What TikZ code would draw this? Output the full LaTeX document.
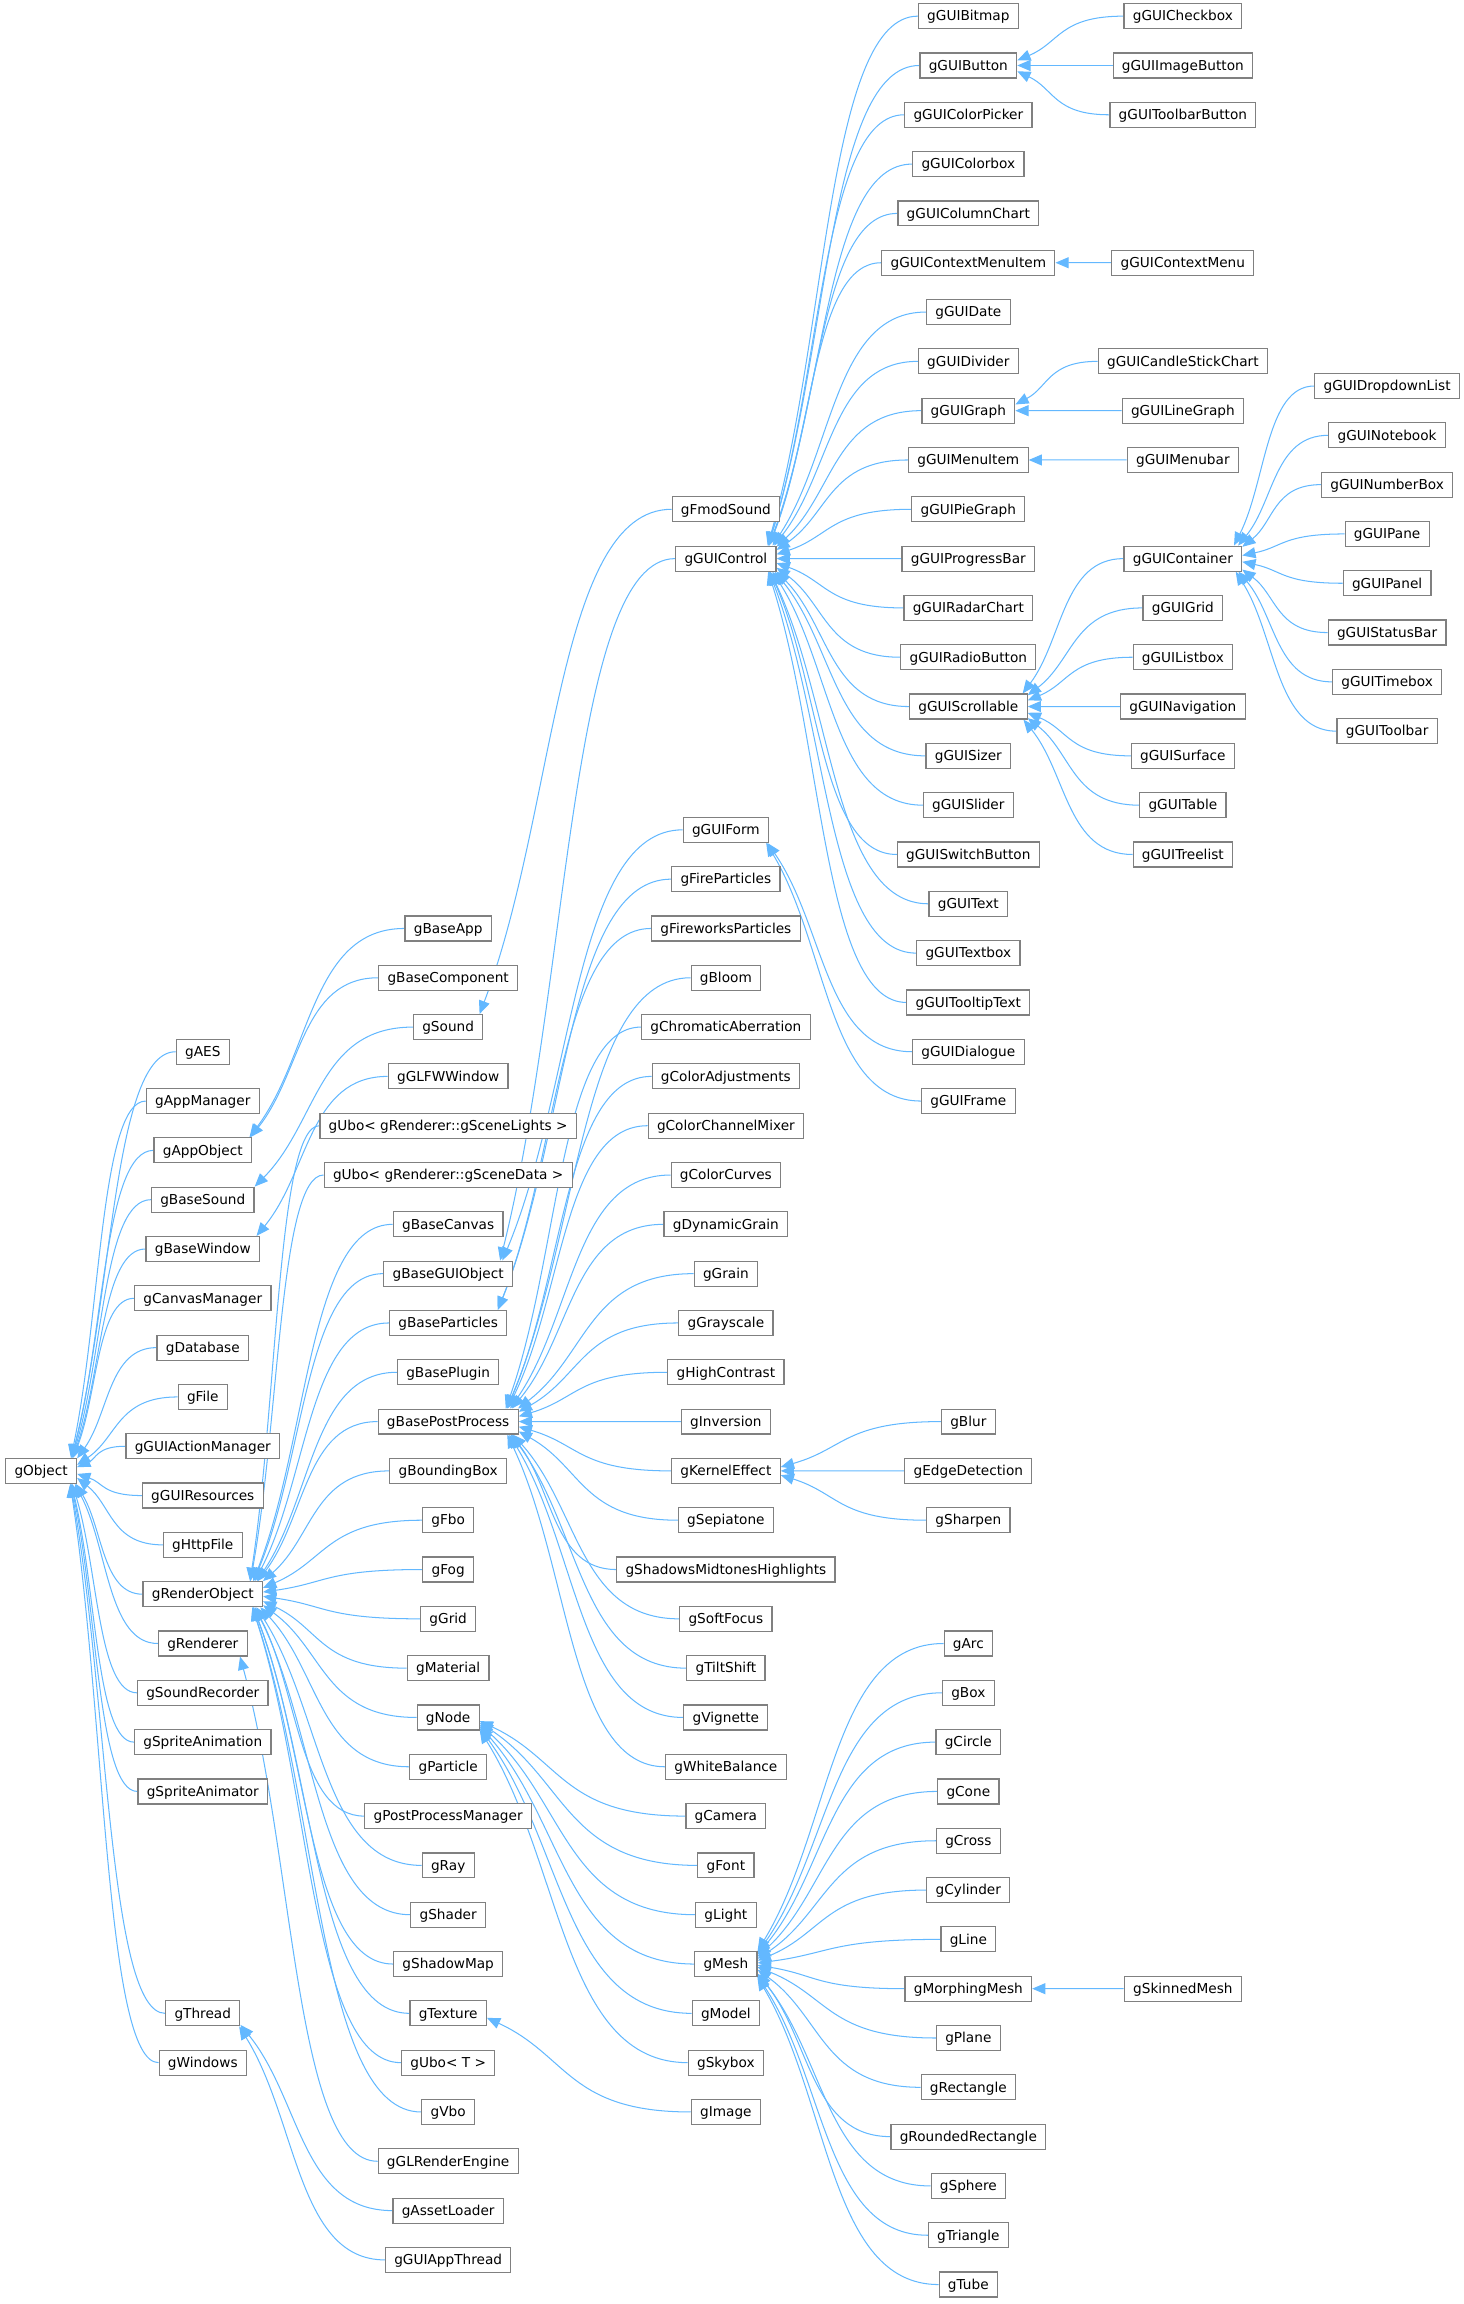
\documentclass[tikz,border=0pt]{standalone}
\usepackage{fontspec}
\setmainfont{DejaVu Sans}
\usetikzlibrary{arrows.meta, positioning, calc, backgrounds}
\definecolor{edgeblue}{RGB}{99,184,255}
\definecolor{boxgray}{RGB}{128,128,128}

\begin{document}
\begin{tikzpicture}[
        x=1pt, y=1pt,
        font=\fontsize{9.3}{11}\selectfont,
        cls/.style={draw=boxgray, line width=0.8pt, fill=white, minimum height=17pt, inner xsep=6pt, inner ysep=0pt, text height=6.8pt, text depth=0.3pt},
        inh/.style={draw=edgeblue, line width=0.7pt, -{Triangle[length=9pt,width=7.5pt]},
            to path={let \p1=(\tikztostart), \p2=(\tikztotarget.center), \p3=(\tikztotarget.north east),
                \n1={(\x2)+0.75*((\x3)-(\x2))},
                \n2={atan2((\y1)-(\y2),(\x1)-(\n1))},
                \n3={min(0.25*((\x3)-(\x2))/max(cos(\n2),0.01),((\y3)-(\y2))/max(abs(sin(\n2)),0.01))},
                \p4=({\n1+\n3*cos(\n2)},{(\y2)+\n3*sin(\n2)}),
                \n4={max(0.6*abs((\x1)-(\x4)),4)},
                \n5={0.4*veclen((\x1)-(\x4),(\y1)-(\y4))}
            in (\tikztostart) .. controls +(-\n4,0) and +(\n2:\n5) .. (\p4)}},
        node distance=15.76pt and 20pt,
    ]
        \useasboundingbox (0,0) rectangle (996,-1568);

        % --- root ---
        \node[cls] (Object) at (28,-1001.02) {gObject};

        % --- direct children of gObject ---
        \node[cls] (AES) at (138,-715.76) {gAES};
        \node[cls, below=of AES] (AppManager) {gAppManager};
        \node[cls, below=of AppManager] (AppObject) {gAppObject};
        \node[cls, below=of AppObject] (BaseSound) {gBaseSound};
        \node[cls, below=of BaseSound] (BaseWindow) {gBaseWindow};
        \node[cls, below=of BaseWindow] (CanvasManager) {gCanvasManager};
        \node[cls, below=of CanvasManager] (Database) {gDatabase};
        \node[cls, below=of Database] (File) {gFile};
        \node[cls, below=of File] (GUIActionManager) {gGUIActionManager};
        \node[cls, below=of GUIActionManager] (GUIResources) {gGUIResources};
        \node[cls, below=of GUIResources] (HttpFile) {gHttpFile};
        \node[cls, below=of HttpFile] (RenderObject) {gRenderObject};
        \node[cls, below=of RenderObject] (Renderer) {gRenderer};
        \node[cls, below=of Renderer] (SoundRecorder) {gSoundRecorder};
        \node[cls, below=of SoundRecorder] (SpriteAnimation) {gSpriteAnimation};
        \node[cls, below=of SpriteAnimation] (SpriteAnimator) {gSpriteAnimator};
        \node[cls] (Thread) at (138,-1370.18) {gThread};
        \node[cls, below=of Thread] (Windows) {gWindows};

        % --- second level ---
        \node[cls] (BaseApp) at (305,-631.86) {gBaseApp};
        \node[cls, below=of BaseApp] (BaseComponent) {gBaseComponent};
        \node[cls, below=of BaseComponent] (Sound) {gSound};
        \node[cls, below=of Sound] (GLFWWindow) {gGLFWWindow};
        \node[cls, below=of GLFWWindow] (UboLights) {gUbo< gRenderer::gSceneLights >};
        \node[cls, below=of UboLights] (UboData) {gUbo< gRenderer::gSceneData >};
        \node[cls, below=of UboData] (BaseCanvas) {gBaseCanvas};
        \node[cls, below=of BaseCanvas] (BaseGUIObject) {gBaseGUIObject};
        \node[cls, below=of BaseGUIObject] (BaseParticles) {gBaseParticles};
        \node[cls, below=of BaseParticles] (BasePlugin) {gBasePlugin};
        \node[cls, below=of BasePlugin] (BasePostProcess) {gBasePostProcess};
        \node[cls, below=of BasePostProcess] (BoundingBox) {gBoundingBox};
        \node[cls, below=of BoundingBox] (Fbo) {gFbo};
        \node[cls, below=of Fbo] (Fog) {gFog};
        \node[cls, below=of Fog] (Grid) {gGrid};
        \node[cls, below=of Grid] (Material) {gMaterial};
        \node[cls, below=of Material] (Node) {gNode};
        \node[cls, below=of Node] (Particle) {gParticle};
        \node[cls, below=of Particle] (PostProcessManager) {gPostProcessManager};
        \node[cls, below=of PostProcessManager] (Ray) {gRay};
        \node[cls, below=of Ray] (Shader) {gShader};
        \node[cls, below=of Shader] (ShadowMap) {gShadowMap};
        \node[cls, below=of ShadowMap] (Texture) {gTexture};
        \node[cls, below=of Texture] (UboT) {gUbo< T >};
        \node[cls, below=of UboT] (Vbo) {gVbo};
        \node[cls, below=of Vbo] (GLRenderEngine) {gGLRenderEngine};
        \node[cls, below=of GLRenderEngine] (AssetLoader) {gAssetLoader};
        \node[cls, below=of AssetLoader] (GUIAppThread) {gGUIAppThread};

        % --- third level ---
        \node[cls] (FmodSound) at (494,-346.6) {gFmodSound};
        \node[cls, below=of FmodSound] (GUIControl) {gGUIControl};
        \node[cls] (GUIForm) at (494,-564.74) {gGUIForm};
        \node[cls, below=of GUIForm] (FireParticles) {gFireParticles};
        \node[cls, below=of FireParticles] (FireworksParticles) {gFireworksParticles};
        \node[cls, below=of FireworksParticles] (Bloom) {gBloom};
        \node[cls, below=of Bloom] (ChromaticAberration) {gChromaticAberration};
        \node[cls, below=of ChromaticAberration] (ColorAdjustments) {gColorAdjustments};
        \node[cls, below=of ColorAdjustments] (ColorChannelMixer) {gColorChannelMixer};
        \node[cls, below=of ColorChannelMixer] (ColorCurves) {gColorCurves};
        \node[cls, below=of ColorCurves] (DynamicGrain) {gDynamicGrain};
        \node[cls, below=of DynamicGrain] (Grain) {gGrain};
        \node[cls, below=of Grain] (Grayscale) {gGrayscale};
        \node[cls, below=of Grayscale] (HighContrast) {gHighContrast};
        \node[cls, below=of HighContrast] (Inversion) {gInversion};
        \node[cls, below=of Inversion] (KernelEffect) {gKernelEffect};
        \node[cls, below=of KernelEffect] (Sepiatone) {gSepiatone};
        \node[cls, below=of Sepiatone] (ShadowsMidtonesHighlights) {gShadowsMidtonesHighlights};
        \node[cls, below=of ShadowsMidtonesHighlights] (SoftFocus) {gSoftFocus};
        \node[cls, below=of SoftFocus] (TiltShift) {gTiltShift};
        \node[cls, below=of TiltShift] (Vignette) {gVignette};
        \node[cls, below=of Vignette] (WhiteBalance) {gWhiteBalance};
        \node[cls, below=of WhiteBalance] (Camera) {gCamera};
        \node[cls, below=of Camera] (Font) {gFont};
        \node[cls, below=of Font] (Light) {gLight};
        \node[cls, below=of Light] (Mesh) {gMesh};
        \node[cls, below=of Mesh] (Model) {gModel};
        \node[cls, below=of Model] (Skybox) {gSkybox};
        \node[cls, below=of Skybox] (Image) {gImage};

        % --- fourth level: controls, kernels, meshes ---
        \node[cls] (GUIBitmap) at (659,-11) {gGUIBitmap};
        \node[cls, below=of GUIBitmap] (GUIButton) {gGUIButton};
        \node[cls, below=of GUIButton] (GUIColorPicker) {gGUIColorPicker};
        \node[cls, below=of GUIColorPicker] (GUIColorbox) {gGUIColorbox};
        \node[cls, below=of GUIColorbox] (GUIColumnChart) {gGUIColumnChart};
        \node[cls, below=of GUIColumnChart] (GUIContextMenuItem) {gGUIContextMenuItem};
        \node[cls, below=of GUIContextMenuItem] (GUIDate) {gGUIDate};
        \node[cls, below=of GUIDate] (GUIDivider) {gGUIDivider};
        \node[cls, below=of GUIDivider] (GUIGraph) {gGUIGraph};
        \node[cls, below=of GUIGraph] (GUIMenuItem) {gGUIMenuItem};
        \node[cls, below=of GUIMenuItem] (GUIPieGraph) {gGUIPieGraph};
        \node[cls, below=of GUIPieGraph] (GUIProgressBar) {gGUIProgressBar};
        \node[cls, below=of GUIProgressBar] (GUIRadarChart) {gGUIRadarChart};
        \node[cls, below=of GUIRadarChart] (GUIRadioButton) {gGUIRadioButton};
        \node[cls, below=of GUIRadioButton] (GUIScrollable) {gGUIScrollable};
        \node[cls, below=of GUIScrollable] (GUISizer) {gGUISizer};
        \node[cls, below=of GUISizer] (GUISlider) {gGUISlider};
        \node[cls, below=of GUISlider] (GUISwitchButton) {gGUISwitchButton};
        \node[cls, below=of GUISwitchButton] (GUIText) {gGUIText};
        \node[cls, below=of GUIText] (GUITextbox) {gGUITextbox};
        \node[cls, below=of GUITextbox] (GUITooltipText) {gGUITooltipText};
        \node[cls, below=of GUITooltipText] (GUIDialogue) {gGUIDialogue};
        \node[cls, below=of GUIDialogue] (GUIFrame) {gGUIFrame};

        \node[cls] (Blur) at (659,-967.46) {gBlur};
        \node[cls, below=of Blur] (EdgeDetection) {gEdgeDetection};
        \node[cls, below=of EdgeDetection] (Sharpen) {gSharpen};

        \node[cls] (Arc) at (659,-1118.48) {gArc};
        \node[cls, below=of Arc] (Box) {gBox};
        \node[cls, below=of Box] (Circle) {gCircle};
        \node[cls, below=of Circle] (Cone) {gCone};
        \node[cls, below=of Cone] (Cross) {gCross};
        \node[cls, below=of Cross] (Cylinder) {gCylinder};
        \node[cls, below=of Cylinder] (Line) {gLine};
        \node[cls, below=of Line] (MorphingMesh) {gMorphingMesh};
        \node[cls, below=of MorphingMesh] (Plane) {gPlane};
        \node[cls, below=of Plane] (Rectangle) {gRectangle};
        \node[cls, below=of Rectangle] (RoundedRectangle) {gRoundedRectangle};
        \node[cls, below=of RoundedRectangle] (Sphere) {gSphere};
        \node[cls, below=of Sphere] (Triangle) {gTriangle};
        \node[cls, below=of Triangle] (Tube) {gTube};

        % --- fifth level ---
        \node[cls] (GUICheckbox) at (805,-11) {gGUICheckbox};
        \node[cls, below=of GUICheckbox] (GUIImageButton) {gGUIImageButton};
        \node[cls, below=of GUIImageButton] (GUIToolbarButton) {gGUIToolbarButton};
        \node[cls] (GUIContextMenu) at (805,-178.8) {gGUIContextMenu};
        \node[cls] (GUICandleStickChart) at (805,-245.92) {gGUICandleStickChart};
        \node[cls, below=of GUICandleStickChart] (GUILineGraph) {gGUILineGraph};
        \node[cls, below=of GUILineGraph] (GUIMenubar) {gGUIMenubar};
        \node[cls] (GUIContainer) at (805,-380.16) {gGUIContainer};
        \node[cls, below=of GUIContainer] (GUIGrid) {gGUIGrid};
        \node[cls, below=of GUIGrid] (GUIListbox) {gGUIListbox};
        \node[cls, below=of GUIListbox] (GUINavigation) {gGUINavigation};
        \node[cls, below=of GUINavigation] (GUISurface) {gGUISurface};
        \node[cls, below=of GUISurface] (GUITable) {gGUITable};
        \node[cls, below=of GUITable] (GUITreelist) {gGUITreelist};
        \node[cls] (SkinnedMesh) at (805,-1353.4) {gSkinnedMesh};

        % --- sixth level: containers ---
        \node[cls] (GUIDropdownList) at (944,-262.7) {gGUIDropdownList};
        \node[cls, below=of GUIDropdownList] (GUINotebook) {gGUINotebook};
        \node[cls, below=of GUINotebook] (GUINumberBox) {gGUINumberBox};
        \node[cls, below=of GUINumberBox] (GUIPane) {gGUIPane};
        \node[cls, below=of GUIPane] (GUIPanel) {gGUIPanel};
        \node[cls, below=of GUIPanel] (GUIStatusBar) {gGUIStatusBar};
        \node[cls, below=of GUIStatusBar] (GUITimebox) {gGUITimebox};
        \node[cls, below=of GUITimebox] (GUIToolbar) {gGUIToolbar};

        \begin{scope}[on background layer]
        % --- gObject ---
        \draw[inh] (AES.west) to (Object);
        \draw[inh] (AppManager.west) to (Object);
        \draw[inh] (AppObject.west) to (Object);
        \draw[inh] (BaseSound.west) to (Object);
        \draw[inh] (BaseWindow.west) to (Object);
        \draw[inh] (CanvasManager.west) to (Object);
        \draw[inh] (Database.west) to (Object);
        \draw[inh] (File.west) to (Object);
        \draw[inh] (GUIActionManager.west) to (Object);
        \draw[inh] (GUIResources.west) to (Object);
        \draw[inh] (HttpFile.west) to (Object);
        \draw[inh] (RenderObject.west) to (Object);
        \draw[inh] (Renderer.west) to (Object);
        \draw[inh] (SoundRecorder.west) to (Object);
        \draw[inh] (SpriteAnimation.west) to (Object);
        \draw[inh] (SpriteAnimator.west) to (Object);
        \draw[inh] (Thread.west) to (Object);
        \draw[inh] (Windows.west) to (Object);

        % --- app, sound, window, thread ---
        \draw[inh] (BaseApp.west) to (AppObject);
        \draw[inh] (BaseComponent.west) to (AppObject);
        \draw[inh] (Sound.west) to (BaseSound);
        \draw[inh] (FmodSound.west) to (Sound);
        \draw[inh] (GLFWWindow.west) to (BaseWindow);
        \draw[inh] (GLRenderEngine.west) to (Renderer);
        \draw[inh] (AssetLoader.west) to (Thread);
        \draw[inh] (GUIAppThread.west) to (Thread);

        % --- gRenderObject ---
        \draw[inh] (UboLights.west) to (RenderObject);
        \draw[inh] (UboData.west) to (RenderObject);
        \draw[inh] (BaseCanvas.west) to (RenderObject);
        \draw[inh] (BaseGUIObject.west) to (RenderObject);
        \draw[inh] (BaseParticles.west) to (RenderObject);
        \draw[inh] (BasePlugin.west) to (RenderObject);
        \draw[inh] (BasePostProcess.west) to (RenderObject);
        \draw[inh] (BoundingBox.west) to (RenderObject);
        \draw[inh] (Fbo.west) to (RenderObject);
        \draw[inh] (Fog.west) to (RenderObject);
        \draw[inh] (Grid.west) to (RenderObject);
        \draw[inh] (Material.west) to (RenderObject);
        \draw[inh] (Node.west) to (RenderObject);
        \draw[inh] (Particle.west) to (RenderObject);
        \draw[inh] (PostProcessManager.west) to (RenderObject);
        \draw[inh] (Ray.west) to (RenderObject);
        \draw[inh] (Shader.west) to (RenderObject);
        \draw[inh] (ShadowMap.west) to (RenderObject);
        \draw[inh] (Texture.west) to (RenderObject);
        \draw[inh] (UboT.west) to (RenderObject);
        \draw[inh] (Vbo.west) to (RenderObject);

        % --- GUI objects and particles ---
        \draw[inh] (GUIControl.west) to (BaseGUIObject);
        \draw[inh] (GUIForm.west) to (BaseGUIObject);
        \draw[inh] (FireParticles.west) to (BaseParticles);
        \draw[inh] (FireworksParticles.west) to (BaseParticles);
        \draw[inh] (GUIDialogue.west) to (GUIForm);
        \draw[inh] (GUIFrame.west) to (GUIForm);

        % --- post processing ---
        \draw[inh] (Bloom.west) to (BasePostProcess);
        \draw[inh] (ChromaticAberration.west) to (BasePostProcess);
        \draw[inh] (ColorAdjustments.west) to (BasePostProcess);
        \draw[inh] (ColorChannelMixer.west) to (BasePostProcess);
        \draw[inh] (ColorCurves.west) to (BasePostProcess);
        \draw[inh] (DynamicGrain.west) to (BasePostProcess);
        \draw[inh] (Grain.west) to (BasePostProcess);
        \draw[inh] (Grayscale.west) to (BasePostProcess);
        \draw[inh] (HighContrast.west) to (BasePostProcess);
        \draw[inh] (Inversion.west) to (BasePostProcess);
        \draw[inh] (KernelEffect.west) to (BasePostProcess);
        \draw[inh] (Sepiatone.west) to (BasePostProcess);
        \draw[inh] (ShadowsMidtonesHighlights.west) to (BasePostProcess);
        \draw[inh] (SoftFocus.west) to (BasePostProcess);
        \draw[inh] (TiltShift.west) to (BasePostProcess);
        \draw[inh] (Vignette.west) to (BasePostProcess);
        \draw[inh] (WhiteBalance.west) to (BasePostProcess);
        \draw[inh] (Blur.west) to (KernelEffect);
        \draw[inh] (EdgeDetection.west) to (KernelEffect);
        \draw[inh] (Sharpen.west) to (KernelEffect);

        % --- scene nodes and meshes ---
        \draw[inh] (Camera.west) to (Node);
        \draw[inh] (Font.west) to (Node);
        \draw[inh] (Light.west) to (Node);
        \draw[inh] (Mesh.west) to (Node);
        \draw[inh] (Model.west) to (Node);
        \draw[inh] (Skybox.west) to (Node);
        \draw[inh] (Image.west) to (Texture);
        \draw[inh] (Arc.west) to (Mesh);
        \draw[inh] (Box.west) to (Mesh);
        \draw[inh] (Circle.west) to (Mesh);
        \draw[inh] (Cone.west) to (Mesh);
        \draw[inh] (Cross.west) to (Mesh);
        \draw[inh] (Cylinder.west) to (Mesh);
        \draw[inh] (Line.west) to (Mesh);
        \draw[inh] (MorphingMesh.west) to (Mesh);
        \draw[inh] (Plane.west) to (Mesh);
        \draw[inh] (Rectangle.west) to (Mesh);
        \draw[inh] (RoundedRectangle.west) to (Mesh);
        \draw[inh] (Sphere.west) to (Mesh);
        \draw[inh] (Triangle.west) to (Mesh);
        \draw[inh] (Tube.west) to (Mesh);
        \draw[inh] (SkinnedMesh.west) to (MorphingMesh);

        % --- gGUIControl ---
        \draw[inh] (GUIBitmap.west) to (GUIControl);
        \draw[inh] (GUIButton.west) to (GUIControl);
        \draw[inh] (GUIColorPicker.west) to (GUIControl);
        \draw[inh] (GUIColorbox.west) to (GUIControl);
        \draw[inh] (GUIColumnChart.west) to (GUIControl);
        \draw[inh] (GUIContextMenuItem.west) to (GUIControl);
        \draw[inh] (GUIDate.west) to (GUIControl);
        \draw[inh] (GUIDivider.west) to (GUIControl);
        \draw[inh] (GUIGraph.west) to (GUIControl);
        \draw[inh] (GUIMenuItem.west) to (GUIControl);
        \draw[inh] (GUIPieGraph.west) to (GUIControl);
        \draw[inh] (GUIProgressBar.west) to (GUIControl);
        \draw[inh] (GUIRadarChart.west) to (GUIControl);
        \draw[inh] (GUIRadioButton.west) to (GUIControl);
        \draw[inh] (GUIScrollable.west) to (GUIControl);
        \draw[inh] (GUISizer.west) to (GUIControl);
        \draw[inh] (GUISlider.west) to (GUIControl);
        \draw[inh] (GUISwitchButton.west) to (GUIControl);
        \draw[inh] (GUIText.west) to (GUIControl);
        \draw[inh] (GUITextbox.west) to (GUIControl);
        \draw[inh] (GUITooltipText.west) to (GUIControl);

        % --- buttons, menus, graphs ---
        \draw[inh] (GUICheckbox.west) to (GUIButton);
        \draw[inh] (GUIImageButton.west) to (GUIButton);
        \draw[inh] (GUIToolbarButton.west) to (GUIButton);
        \draw[inh] (GUIContextMenu.west) to (GUIContextMenuItem);
        \draw[inh] (GUICandleStickChart.west) to (GUIGraph);
        \draw[inh] (GUILineGraph.west) to (GUIGraph);
        \draw[inh] (GUIMenubar.west) to (GUIMenuItem);

        % --- scrollables and containers ---
        \draw[inh] (GUIContainer.west) to (GUIScrollable);
        \draw[inh] (GUIGrid.west) to (GUIScrollable);
        \draw[inh] (GUIListbox.west) to (GUIScrollable);
        \draw[inh] (GUINavigation.west) to (GUIScrollable);
        \draw[inh] (GUISurface.west) to (GUIScrollable);
        \draw[inh] (GUITable.west) to (GUIScrollable);
        \draw[inh] (GUITreelist.west) to (GUIScrollable);
        \draw[inh] (GUIDropdownList.west) to (GUIContainer);
        \draw[inh] (GUINotebook.west) to (GUIContainer);
        \draw[inh] (GUINumberBox.west) to (GUIContainer);
        \draw[inh] (GUIPane.west) to (GUIContainer);
        \draw[inh] (GUIPanel.west) to (GUIContainer);
        \draw[inh] (GUIStatusBar.west) to (GUIContainer);
        \draw[inh] (GUITimebox.west) to (GUIContainer);
        \draw[inh] (GUIToolbar.west) to (GUIContainer);
        \end{scope}

    \end{tikzpicture}
\end{document}
